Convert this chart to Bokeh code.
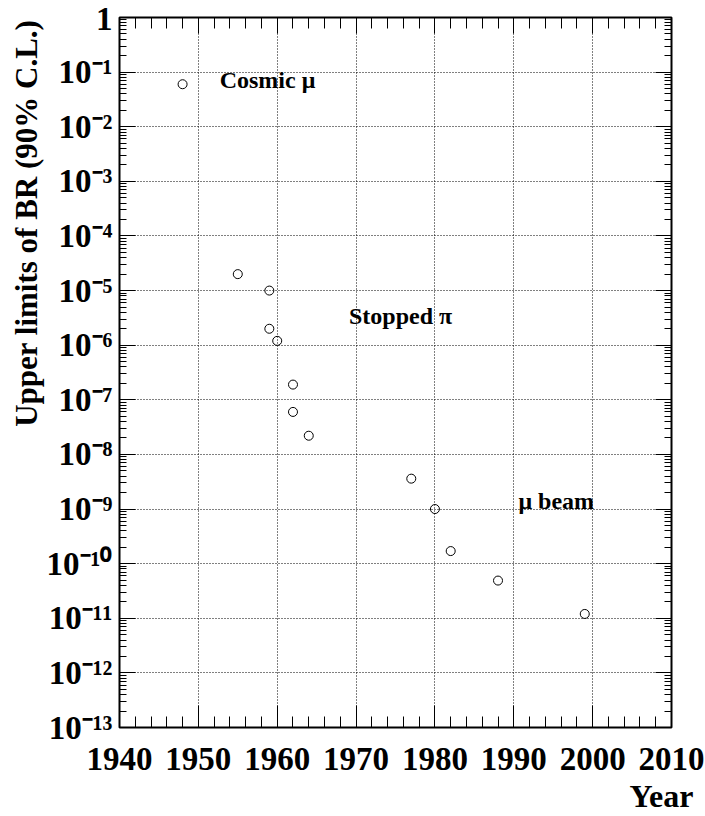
import math
from bokeh.plotting import figure
from bokeh.models import (Range1d, LinearAxis, LogAxis, FixedTicker, Title,
                          CustomJSTickFormatter, ColumnDataSource)
from bokeh.core.properties import value
from bokeh.embed import file_html
from bokeh.resources import INLINE

# ---------------- data ----------------
years = [1948, 1955, 1959, 1959, 1960, 1962, 1962, 1964, 1977, 1980, 1982, 1988, 1999]
limits = [6e-2, 2e-5, 1e-5, 2e-6, 1.2e-6, 1.9e-7, 6e-8, 2.2e-8, 3.6e-9, 1e-9, 1.7e-10, 4.9e-11, 1.2e-11]

x_ticks = [1940, 1950, 1960, 1970, 1980, 1990, 2000, 2010]
x_tick_labels = ["1940", "1950", "1960", "1970", "1980", "1990", "2000", "2010"]
y_exponents = [0, -1, -2, -3, -4, -5, -6, -7, -8, -9, -10, -11, -12, -13]
y_tick_labels = ["1", "10\u207b\u00b9", "10\u207b\u00b2", "10\u207b\u00b3", "10\u207b\u2074",
                 "10\u207b\u2075", "10\u207b\u2076", "10\u207b\u2077", "10\u207b\u2078",
                 "10\u207b\u2079", "10\u207b\u00b9\u2070", "10\u207b\u00b9\u00b9",
                 "10\u207b\u00b9\u00b2", "10\u207b\u00b9\u00b3"]

annot_texts = ["Cosmic \u03bc", "Stopped \u03c0", "\u03bc beam"]
annot_x = [1952.7, 1969.1, 1990.6]
annot_y = [5.2e-2, 2.4e-6, 1.0e-9]

x_title = "Year"
y_title = "Upper limits of BR (90% C.L.)"

# ---------------- layout ----------------
W, H = 705, 816
LEFT, RIGHT, TOP, BOTTOM = 119, 34, 17, 89
XMIN, XMAX = 1940, 2010
YMIN, YMAX = 1e-13, 1.0
FONT = "Liberation Serif"

frame_h = H - TOP - BOTTOM
px_per_decade = frame_h / (math.log10(YMAX) - math.log10(YMIN))
TEXT_SHIFT = 8  # px upward correction for in-frame text baseline


def shift_up(yval, px):
    return yval * 10 ** (px / px_per_decade)


p = figure(width=W, height=H, output_backend="svg", toolbar_location=None,
           x_range=Range1d(XMIN, XMAX), y_range=Range1d(YMIN, YMAX),
           y_axis_type="log", x_axis_location=None, y_axis_location=None,
           min_border_left=LEFT, min_border_right=RIGHT,
           min_border_top=TOP, min_border_bottom=BOTTOM)
p.background_fill_color = "white"
p.border_fill_color = "white"
p.outline_line_color = "black"
p.outline_line_width = 2

x_minor = [v for v in range(XMIN, XMAX + 1, 2) if v not in x_ticks]
y_major = [10.0 ** e for e in y_exponents]
y_minor = [m * 10.0 ** e for e in y_exponents[1:] for m in range(2, 10)]

blank = CustomJSTickFormatter(code="return ''")


def style_axis(ax, major_in, minor_in):
    ax.axis_line_color = None
    ax.major_tick_in = major_in
    ax.major_tick_out = 0
    ax.minor_tick_in = minor_in
    ax.minor_tick_out = 0
    ax.major_tick_line_color = "black"
    ax.minor_tick_line_color = "black"
    ax.major_tick_line_width = 1
    ax.minor_tick_line_width = 1


# bottom axis with labels
xfmt = CustomJSTickFormatter(args=dict(xvals=x_ticks, xlabs=x_tick_labels),
                             code="const i = xvals.indexOf(Math.round(tick)); return i >= 0 ? xlabs[i] : '';")
xb = LinearAxis(ticker=FixedTicker(ticks=x_ticks, minor_ticks=x_minor), formatter=xfmt)
style_axis(xb, 22, 11)
xb.major_label_text_font = FONT
xb.major_label_text_font_style = "bold"
xb.major_label_text_font_size = "33px"
xb.major_label_text_color = "black"
xb.major_label_standoff = 20
p.add_layout(xb, "below")

# top mirror axis
xt = LinearAxis(ticker=FixedTicker(ticks=x_ticks, minor_ticks=x_minor), formatter=blank)
style_axis(xt, 16, 11)
xt.major_label_text_font_size = "0px"
xt.major_label_standoff = 0
p.add_layout(xt, "above")

# left axis with 10^n labels
yfmt = CustomJSTickFormatter(args=dict(yexps=y_exponents, ylabs=y_tick_labels),
                             code="const i = yexps.indexOf(Math.round(Math.log10(tick))); return i >= 0 ? ylabs[i] : '';")
yl = LogAxis(ticker=FixedTicker(ticks=y_major, minor_ticks=y_minor), formatter=yfmt)
style_axis(yl, 16, 7)
yl.major_label_text_font = FONT
yl.major_label_text_font_style = "bold"
yl.major_label_text_font_size = "33px"
yl.major_label_text_color = "black"
yl.major_label_standoff = 7
p.add_layout(yl, "left")

# right mirror axis
yr = LogAxis(ticker=FixedTicker(ticks=y_major, minor_ticks=y_minor), formatter=blank)
style_axis(yr, 16, 7)
yr.major_label_text_font_size = "0px"
yr.major_label_standoff = 0
p.add_layout(yr, "right")

# axis titles
yt = Title(text=y_title, align="right", offset=2, standoff=0,
           text_font=FONT, text_font_style="bold", text_font_size="31px",
           text_color="black")
p.add_layout(yt, "left")
xtitle = Title(text=x_title, align="right", offset=-22, standoff=6,
               text_font=FONT, text_font_style="bold", text_font_size="32px",
               text_color="black")
p.add_layout(xtitle, "below")

# grids
p.xgrid.ticker = FixedTicker(ticks=x_ticks)
p.ygrid.ticker = FixedTicker(ticks=y_major)
for g in (p.xgrid, p.ygrid):
    g.grid_line_color = "black"
    g.grid_line_dash = "1 2"
    g.grid_line_width = 1

# data points
src = ColumnDataSource(dict(x=years, y=limits))
p.scatter("x", "y", source=src, marker="circle", size=9, fill_color=None,
          line_color="black", line_width=1)

# annotations inside the frame
tsrc = ColumnDataSource(dict(x=annot_x, y=[shift_up(v, TEXT_SHIFT) for v in annot_y], t=annot_texts))
p.text("x", "y", text="t", source=tsrc, text_font=value(FONT),
       text_font_style="bold", text_font_size="24px", text_color="black",
       text_align="left", text_baseline="alphabetic")

open("out.html", "w").write(file_html(p, INLINE))
